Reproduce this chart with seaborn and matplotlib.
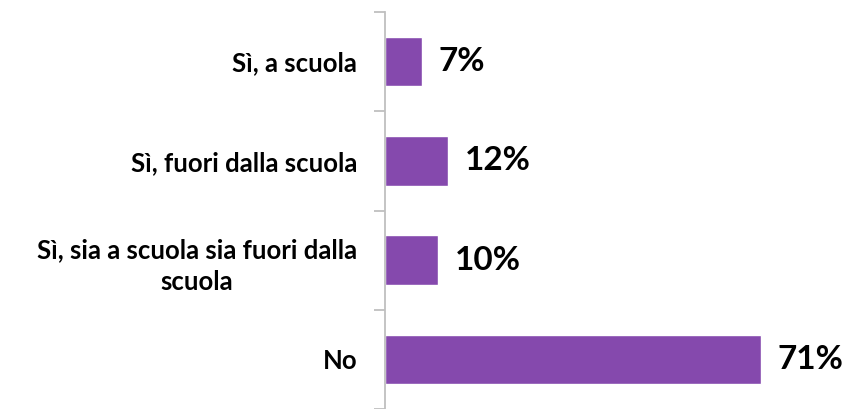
import matplotlib
matplotlib.use("Agg")
import matplotlib.pyplot as plt
import seaborn as sns
import pandas as pd

categories = ["Sì, a scuola", "Sì, fuori dalla scuola",
              "Sì, sia a scuola sia fuori dalla\nscuola", "No"]
values = [7, 12, 10, 71]
value_labels = ["7%", "12%", "10%", "71%"]

sns.set_style("white")
plt.rcParams['font.family'] = ['Lato', 'DejaVu Sans']

df = pd.DataFrame({"cat": categories, "val": values})

fig = plt.figure(figsize=(8.47, 4.09), dpi=100)
ax = fig.add_axes([385/847, 0.0, 1 - 385/847, 1 - 12/409])
sns.barplot(data=df, y="cat", x="val", orient="h", color="#8549AD",
            saturation=1, width=0.5, ax=ax)

ax.set_xlim(0, (847 - 385) / 5.29)
ax.set_ylim(3.5, -0.5)
ax.set_xlabel("")
ax.set_ylabel("")
ax.set_xticks([])
for s in ["top", "right", "bottom"]:
    ax.spines[s].set_visible(False)
ax.spines["left"].set_color("#BFBFBF")
ax.spines["left"].set_linewidth(1.3)

ax.set_yticks(range(len(categories)))
ax.set_yticks([i - 0.5 for i in range(len(categories) + 1)], minor=True)
ax.tick_params(axis="y", which="major", length=0, pad=20)
ax.tick_params(axis="y", which="minor", length=8, width=1.3, color="#BFBFBF", left=True)
ax.set_yticklabels(categories, fontsize=18.5, fontweight="bold", color="black")

for i, (v, t) in enumerate(zip(values, value_labels)):
    ax.annotate(t, xy=(v, i), xytext=(12, 0), textcoords="offset points",
                ha="left", va="center", fontsize=24, fontweight="bold",
                color="black")

fig.canvas.draw()
for tick in ax.yaxis.get_major_ticks():
    tick.label1.set_multialignment("center")
    tick.label1.set_linespacing(1.4)

fig.savefig("out.png", dpi=100)
